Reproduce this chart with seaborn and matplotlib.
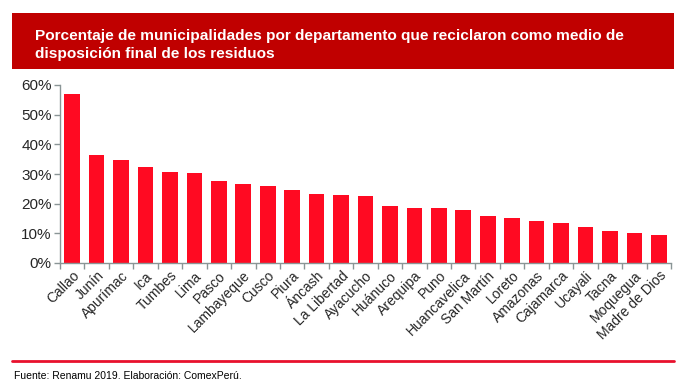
import matplotlib
matplotlib.use("Agg")
import matplotlib.pyplot as plt
import seaborn as sns
import pandas as pd
from matplotlib.patches import Rectangle
from matplotlib.lines import Line2D
from matplotlib.ticker import PercentFormatter, FixedLocator

departamentos = ["Callao", "Junín", "Apurímac", "Ica", "Tumbes", "Lima", "Pasco",
                 "Lambayeque", "Cusco", "Piura", "Áncash", "La Libertad", "Ayacucho",
                 "Huánuco", "Arequipa", "Puno", "Huancavelica", "San Martín", "Loreto",
                 "Amazonas", "Cajamarca", "Ucayali", "Tacna", "Moquegua", "Madre de Dios"]
porcentajes = [57.0, 36.4, 34.6, 32.5, 30.8, 30.5, 27.6, 26.5, 26.0, 24.6, 23.4, 22.9, 22.7,
               19.2, 18.4, 18.4, 18.0, 15.7, 15.2, 14.2, 13.4, 12.0, 10.8, 10.1, 9.3]
y_ticks = [0, 10, 20, 30, 40, 50, 60]

titulo = "Porcentaje de municipalidades por departamento que reciclaron como medio de\ndisposición final de los residuos"
fuente = "Fuente: Renamu 2019. Elaboración: ComexPerú."

sns.set_style("white")
plt.rcParams['font.family'] = ['Liberation Sans', 'DejaVu Sans']

df = pd.DataFrame({"dep": departamentos, "pct": porcentajes})

W, H = 687, 391
fig = plt.figure(figsize=(W / 100, H / 100), dpi=100)

# banner
fig.add_artist(Rectangle((12 / W, 1 - 69 / H), (674 - 12) / W, (69 - 13) / H,
                         transform=fig.transFigure, facecolor="#C00000", edgecolor="none"))
fig.text(35 / W, 1 - 45 / H, titulo, color="white", fontsize=11.05, fontweight="bold",
         va="center", ha="left", linespacing=1.38)

ax = fig.add_axes([60 / W, (H - 263) / H, (671 - 60) / W, (263 - 85) / H])
sns.barplot(data=df, x="dep", y="pct", color="#FF0A22", saturation=1, width=0.64,
            edgecolor="none", ax=ax)

ax.set_ylim(0, 60)
ax.set_xlim(-0.5, len(departamentos) - 0.5)
ax.set_yticks(y_ticks)
ax.yaxis.set_major_formatter(PercentFormatter(decimals=0))
ax.set_xlabel("")
ax.set_ylabel("")
for s in ["top", "right"]:
    ax.spines[s].set_visible(False)
for s in ["left", "bottom"]:
    ax.spines[s].set_color("#8A9596")
    ax.spines[s].set_linewidth(1)
ax.tick_params(axis="y", which="major", length=4, width=1, color="#8A9596",
               labelsize=11, pad=2, left=True)
ax.tick_params(axis="x", which="major", length=0, labelsize=10, pad=4)
ax.xaxis.set_minor_locator(FixedLocator([i - 0.5 for i in range(len(departamentos) + 1)]))
ax.tick_params(axis="x", which="minor", length=4, width=1, color="#8A9596", bottom=True)
ax.set_xticks(range(len(departamentos)))
ax.set_xticklabels(departamentos, rotation=45, ha="right", rotation_mode="anchor")

# footer
fig.add_artist(Line2D([12 / W, 674 / W], [1 - 361 / H, 1 - 361 / H],
                      transform=fig.transFigure, color="#E8112D", linewidth=2))
fig.text(14 / W, 1 - 376 / H, fuente, fontsize=7.5, color="black", va="center", ha="left")

fig.savefig("out.png", dpi=100)
